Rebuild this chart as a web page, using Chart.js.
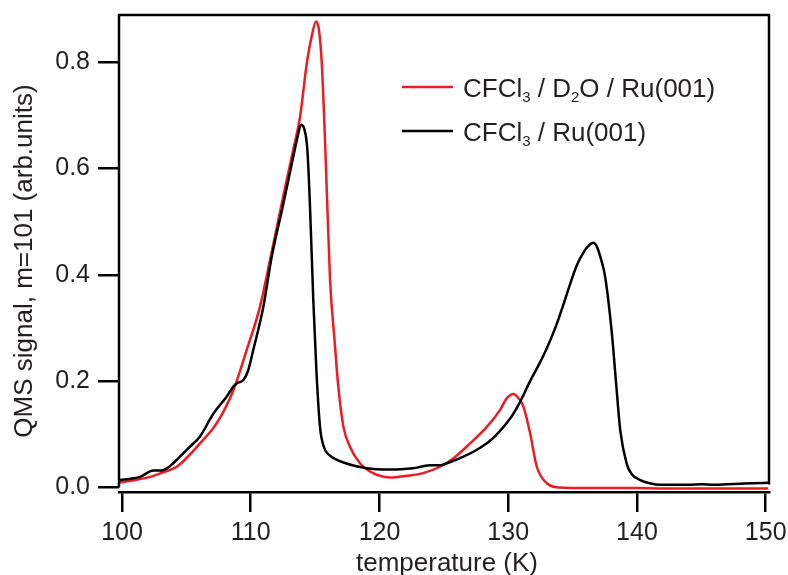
<!DOCTYPE html>
<html>
<head>
<meta charset="utf-8">
<script src="https://cdn.jsdelivr.net/npm/chart.js@4"></script>
<style>
html,body{margin:0;padding:0;background:#fff;}
#wrap{width:788px;height:575px;position:relative;}
</style>
</head>
<body>
<div id="wrap"><canvas id="c" width="788" height="575"></canvas></div>
<script>
// ---- data ----
const redTemps = [99.8,101,102.2,103,104.25,105,106.06,107.36,108.65,109.69,110.72,111.5,112.5,113.3,113.83,114.35,114.75,115.07,115.3,115.52,115.77,116.16,116.5,116.8,117.2,117.7,118.5,119.5,120.8,122.1,123.4,124.7,125.75,127.04,128.34,129.37,129.89,130.4,130.8,131.18,131.7,132.22,133.0,134,136,138,140,142,144,146,148,150.2];
const redValues = [0.009,0.014,0.020,0.027,0.039,0.055,0.083,0.121,0.183,0.259,0.340,0.428,0.545,0.635,0.697,0.797,0.85,0.876,0.86,0.797,0.653,0.39,0.28,0.19,0.114,0.077,0.045,0.027,0.019,0.022,0.027,0.039,0.055,0.083,0.114,0.146,0.168,0.176,0.168,0.152,0.102,0.039,0.008,0.0,-0.001,-0.001,-0.001,-0.002,-0.002,-0.002,-0.002,-0.002];
const blackTemps = [99.8,101.4,102.43,103.08,103.6,104.5,105.2,106.06,107.1,108.14,108.65,109.0,109.43,109.8,110.2,110.98,111.63,112.5,113.2,113.6,113.91,114.15,114.4,114.6,114.86,115.1,115.38,115.7,116.16,116.7,117.2,118.2,119.5,121.3,122.6,123.9,124.7,125.5,126.52,127.5,128.34,129.0,129.63,130.3,130.9,131.7,132.4,133.0,133.7,134.3,134.8,135.33,135.9,136.3,136.62,136.9,137.2,137.53,138.05,138.4,138.7,139.2,139.6,140.25,141,141.8,143,144,145,146,147,148,149,150.2];
const blackValues = [0.014,0.020,0.032,0.032,0.038,0.058,0.075,0.096,0.139,0.171,0.19,0.197,0.202,0.22,0.259,0.340,0.434,0.53,0.61,0.655,0.682,0.675,0.635,0.53,0.352,0.22,0.114,0.075,0.060,0.052,0.047,0.040,0.035,0.034,0.036,0.042,0.042,0.048,0.058,0.07,0.083,0.097,0.114,0.135,0.160,0.200,0.232,0.262,0.303,0.345,0.382,0.418,0.444,0.456,0.460,0.452,0.43,0.396,0.290,0.19,0.108,0.045,0.025,0.014,0.008,0.005,0.005,0.005,0.006,0.005,0.006,0.007,0.008,0.009];
const xTicks = [100,110,120,130,140,150];
const yTicks = [0.0,0.2,0.4,0.6,0.8];
const seriesNames = ['CFCl3 / D2O / Ru(001)', 'CFCl3 / Ru(001)'];
const xTitle = 'temperature (K)';
const yTitle = 'QMS signal, m=101 (arb.units)';

const RED = '#ec1c24';
const FONT = '"Liberation Sans", Arial, sans-serif';

function pts(t, v){ return t.map((x,i)=>({x:x,y:v[i]})); }

// frame, titles and legend
const decor = {
  id:'decor',
  afterDraw(chart){
    const ctx = chart.ctx, a = chart.chartArea;
    const ys = chart.scales.y;
    const y0 = ys.getPixelForValue(0);
    ctx.save();
    ctx.strokeStyle = '#000';
    ctx.lineWidth = 2.5;
    ctx.lineCap = 'butt';
    ctx.beginPath();
    ctx.moveTo(a.left, y0);
    ctx.lineTo(a.left, a.top);
    ctx.lineTo(a.right, a.top);
    ctx.lineTo(a.right, y0 - 3);
    ctx.stroke();

    // axis titles
    ctx.fillStyle = '#231f20';
    ctx.font = '26px ' + FONT;
    ctx.textAlign = 'center';
    ctx.textBaseline = 'alphabetic';
    ctx.fillText(xTitle, (a.left + a.right)/2 + 3, 571);
    ctx.save();
    ctx.translate(32, 261);
    ctx.rotate(-Math.PI/2);
    ctx.fillText(yTitle, 0, 0);
    ctx.restore();

    // legend
    const items = [
      {color: RED, y: 87, parts: [['CFCl',0],['3',1],[' / D',0],['2',1],['O / Ru(001)',0]]},
      {color: '#000', y: 131, parts: [['CFCl',0],['3',1],[' / Ru(001)',0]]}
    ];
    items.forEach(it=>{
      ctx.strokeStyle = it.color;
      ctx.lineWidth = 2.5;
      ctx.beginPath();
      ctx.moveTo(402, it.y);
      ctx.lineTo(453, it.y);
      ctx.stroke();
      let x = 463;
      const base = it.y + 9.5;
      ctx.textAlign = 'left';
      ctx.fillStyle = '#231f20';
      it.parts.forEach(p=>{
        if (p[1]) {
          ctx.font = '15px ' + FONT;
          ctx.fillText(p[0], x, base + 5);
        } else {
          ctx.font = '26px ' + FONT;
          ctx.fillText(p[0], x, base);
        }
        x += ctx.measureText(p[0]).width;
      });
    });
    ctx.restore();
  }
};

new Chart(document.getElementById('c'), {
  type: 'line',
  data: {
    datasets: [
      {label: seriesNames[0], data: pts(redTemps, redValues), borderColor: RED, borderWidth: 2.5, pointRadius: 0, cubicInterpolationMode: 'monotone', fill: false, order: 1},
      {label: seriesNames[1], data: pts(blackTemps, blackValues), borderColor: '#000', borderWidth: 2.5, pointRadius: 0, cubicInterpolationMode: 'monotone', fill: false, order: 0}
    ]
  },
  options: {
    responsive: false,
    animation: false,
    events: [],
    layout: {padding: {left: 0, top: 15, right: 19, bottom: 0}},
    plugins: {legend: {display: false}, tooltip: {enabled: false}},
    scales: {
      x: {
        type: 'linear',
        min: 99.767, max: 150.256,
        afterFit(s){ s.height = 83; s.paddingLeft = 0; s.paddingRight = 0; },
        afterBuildTicks(s){ s.ticks = xTicks.map(v=>({value:v})); },
        grid: {drawOnChartArea: false, tickLength: 20, lineWidth: 2.5, color: '#000', tickColor: '#000'},
        border: {display: true, color: '#000', width: 2.5},
        ticks: {color: '#231f20', font: {family: FONT, size: 25}, padding: 6, maxRotation: 0, autoSkip: false, callback: v => String(v)}
      },
      y: {
        type: 'linear',
        min: -0.00846, max: 0.8884,
        afterFit(s){ s.width = 119; s.paddingTop = 0; s.paddingBottom = 0; },
        afterBuildTicks(s){ s.ticks = yTicks.map(v=>({value:v})); },
        grid: {drawOnChartArea: false, tickLength: 21, lineWidth: 2.5, color: '#000', tickColor: '#000'},
        border: {display: false},
        ticks: {color: '#231f20', font: {family: FONT, size: 25}, padding: 8, autoSkip: false, callback: v => v.toFixed(1)}
      }
    }
  },
  plugins: [decor]
});
</script>
</body>
</html>
